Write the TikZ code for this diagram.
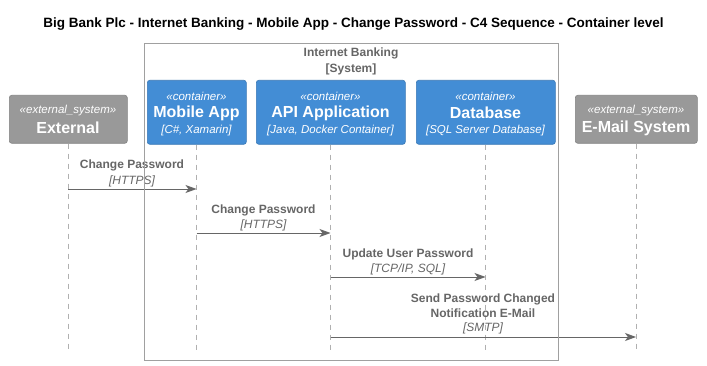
\documentclass[tikz,border=0pt]{standalone}
\usepackage{fontspec}
\setmainfont{Liberation Sans}
\usetikzlibrary{arrows.meta}
\definecolor{c4blue}{HTML}{438DD5}
\definecolor{c4grey}{HTML}{999999}
\definecolor{msgtext}{HTML}{666666}
\definecolor{bordercol}{HTML}{A0A0A0}
\definecolor{lifecol}{HTML}{B0B0B0}
\begin{document}
\begin{tikzpicture}[x=1pt,y=-1pt,
  participant/.style={draw=#1!85!black, line width=0.6pt, fill=#1, rounded corners=2.5pt, text=white, inner sep=0pt, anchor=north west},
  lifeline/.style={draw=lifecol, dash pattern=on 5pt off 5pt, line width=0.6pt},
  msg/.style={draw=msgtext, line width=0.8pt, -{Stealth[length=11pt,width=8pt,inset=3pt]}},
  msglabel/.style={text=msgtext, font=\fontsize{12}{15}\selectfont\bfseries, align=center, inner sep=0pt},
  techlabel/.style={text=msgtext, font=\fontsize{12}{15}\selectfont\itshape, inner sep=0pt},
  stereo/.style={font=\fontsize{11.5}{14}\selectfont\itshape},
  pname/.style={font=\fontsize{16}{19}\selectfont\bfseries},
  ptech/.style={font=\fontsize{11.5}{14}\selectfont\itshape}]
\useasboundingbox (0,0) rectangle (707,366);
\fill[white] (0,0) rectangle (707,366);

% title
\node[font=\fontsize{13.5}{16}\selectfont\bfseries, inner sep=0pt] (title) at (353.5,24) {Big Bank Plc - Internet Banking - Mobile App - Change Password - C4 Sequence - Container level};

% participants
\node[participant=c4grey, minimum width=118pt, minimum height=48pt] (ext) at (9,95) {};
\node[participant=c4blue, minimum width=99pt, minimum height=64pt] (mob) at (147,80) {};
\node[participant=c4blue, minimum width=149pt, minimum height=64pt] (api) at (256,80) {};
\node[participant=c4blue, minimum width=139pt, minimum height=64pt] (db) at (416,80) {};
\node[participant=c4grey, minimum width=122pt, minimum height=48pt] (mail) at (575,95) {};

\node[stereo, text=white] (extS) at (68,111) {«external\_system»};
\node[pname, text=white] (extN) at (68,128) {External};

\node[stereo, text=white] (mobS) at (196.5,96) {«container»};
\node[pname, text=white] (mobN) at (196.5,113) {Mobile App};
\node[ptech, text=white] (mobT) at (196.5,131) {[C\#, Xamarin]};

\node[stereo, text=white] (apiS) at (330.5,96) {«container»};
\node[pname, text=white] (apiN) at (330.5,113) {API Application};
\node[ptech, text=white] (apiT) at (330.5,131) {[Java, Docker Container]};

\node[stereo, text=white] (dbS) at (485.5,96) {«container»};
\node[pname, text=white] (dbN) at (485.5,113) {Database};
\node[ptech, text=white] (dbT) at (485.5,131) {[SQL Server Database]};

\node[stereo, text=white] (mailS) at (636,111) {«external\_system»};
\node[pname, text=white] (mailN) at (636,128) {E-Mail System};

% lifelines
\coordinate (extE) at (68,350);
\coordinate (mobE) at (196.5,350);
\coordinate (apiE) at (330.5,350);
\coordinate (dbE) at (485.5,350);
\coordinate (mailE) at (636,350);
\draw[lifeline] (ext.south -| extE) -- (extE);
\draw[lifeline] (mob.south -| mobE) -- (mobE);
\draw[lifeline] (api.south -| apiE) -- (apiE);
\draw[lifeline] (db.south -| dbE) -- (dbE);
\draw[lifeline] (mail.south -| mailE) -- (mailE);

% messages
\coordinate (m1a) at (68,189);   \coordinate (m1b) at (196.5,189);
\coordinate (m2a) at (196.5,233); \coordinate (m2b) at (330.5,233);
\coordinate (m3a) at (330.5,277); \coordinate (m3b) at (485.5,277);
\coordinate (m4a) at (330.5,337); \coordinate (m4b) at (636,337);

\draw[msg] (m1a) -- (m1b);
\node[msglabel] (l1) at (132,165) {Change Password};
\node[techlabel] (t1) at (132,181) {[HTTPS]};

\draw[msg] (m2a) -- (m2b);
\node[msglabel] (l2) at (263.5,210) {Change Password};
\node[techlabel] (t2) at (263.5,225) {[HTTPS]};

\draw[msg] (m3a) -- (m3b);
\node[msglabel] (l3) at (408,254) {Update User Password};
\node[techlabel] (t3) at (408,269) {[TCP/IP, SQL]};

\draw[msg] (m4a) -- (m4b);
\node[msglabel] (l4) at (483,305.5) {Send Password Changed\\Notification E-Mail};
\node[techlabel] (t4) at (483,328) {[SMTP]};

% system boundary, drawn over the sequence
\node[draw=bordercol, line width=0.8pt, minimum width=414pt, minimum height=317pt, anchor=north west, inner sep=0pt] (boundary) at (144,43) {};
\node[text=msgtext, font=\fontsize{12}{15}\selectfont\bfseries, inner sep=0pt] (blabel) at (351,53) {Internet Banking};
\node[text=msgtext, font=\fontsize{12}{15}\selectfont\bfseries, inner sep=0pt] (btype) at (351,69) {[System]};
\end{tikzpicture}
\end{document}
